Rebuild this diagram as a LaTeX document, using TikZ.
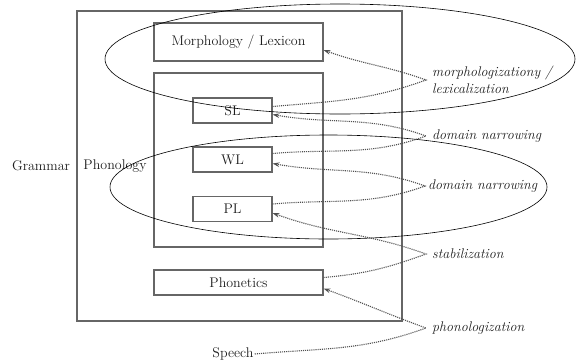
\documentclass[tikz,border=0pt]{standalone}
\usetikzlibrary{positioning, arrows.meta}
\definecolor{ink}{HTML}{1E1E1E}
\definecolor{frame}{HTML}{666666}
\definecolor{trace}{HTML}{505050}
\tikzset{
  every node/.style = {text=ink, font=\fontsize{14}{16}\selectfont},
  gbox/.style   = {draw=frame, line width=1.1pt, inner sep=0pt},
  glevel/.style = {gbox, minimum width=79pt, minimum height=25pt},
  gwide/.style  = {gbox, minimum width=169pt, minimum height=38pt},
  gring/.style  = {draw=black, line width=0.6pt},
  gloop/.style  = {draw=trace, densely dotted, line width=1.1pt,
                   -{Stealth[length=2.4mm,width=1.6mm]}},
  gproc/.style  = {font=\fontsize{14}{17}\selectfont\itshape, anchor=west,
                   align=left, inner sep=1pt},
  gname/.style  = {inner sep=1pt},
}

\begin{document}
\begin{tikzpicture}[x=1pt, y=-1pt]
\useasboundingbox (0,0) rectangle (576,362);

% frames
\node[gbox, minimum width=325pt, minimum height=310pt] (grammar) at (239.5,166) {};
\node[gbox, minimum width=169pt, minimum height=174pt] (phon) at (238.5,160) {};

\node[gwide] (lex) at (238.5,42) {Morphology / Lexicon};
\node[glevel] (sl) at (232.5,110.5) {SL};
\node[glevel] (wl) at (232.5,159.5) {WL};
\node[glevel] (pl) at (232.5,209) {PL};
\node[gwide, minimum height=25pt] (phonetics) at (238.5,282.5) {Phonetics};

\node[gname] (gram) at (41,166) {Grammar};
\node[gname] (phlab) at (115,166) {Phonology};
\node[gname] (speech) at (233,354) {Speech};

% the two rings
\draw[gring] (340,59) ellipse [x radius=235, y radius=55];
\draw[gring] (328.5,187) ellipse [x radius=218.5, y radius=52];

% processes
\node[gproc] (morph) at (431,80) {morphologizationy /\\lexicalization};
\node[gproc] (dn1) at (431,136) {domain narrowing};
\node[gproc] (dn2) at (427,186) {domain narrowing};
\node[gproc] (stab) at (431,254) {stabilization};
\node[gproc] (phonz) at (431,328) {phonologization};

\draw[gloop] ([yshift=4pt]sl.east) to[out=5, in=-160] ([xshift=-5pt]morph.west)
  to[out=160, in=-20] ([yshift=-8pt]lex.east);
\draw[gloop] ([yshift=6pt]wl.east) to[out=5, in=-160] ([xshift=-5pt]dn1.west)
  to[out=160, in=-10] ([yshift=-4pt]sl.east);
\draw[gloop] ([yshift=5pt]pl.east) to[out=5, in=-160] ([xshift=-2pt]dn2.west)
  to[out=160, in=-10] ([yshift=-4pt]wl.east);
\draw[gloop] ([yshift=5pt]phonetics.east) to[out=5, in=-160] ([xshift=-5pt]stab.west)
  to[out=160, in=-20] ([yshift=-4pt]pl.east);
\draw[gloop] (speech.east) to[out=5, in=-160] ([xshift=-5pt]phonz.west)
  to[out=160, in=-20] ([yshift=-6pt]phonetics.east);
\end{tikzpicture}
\end{document}
